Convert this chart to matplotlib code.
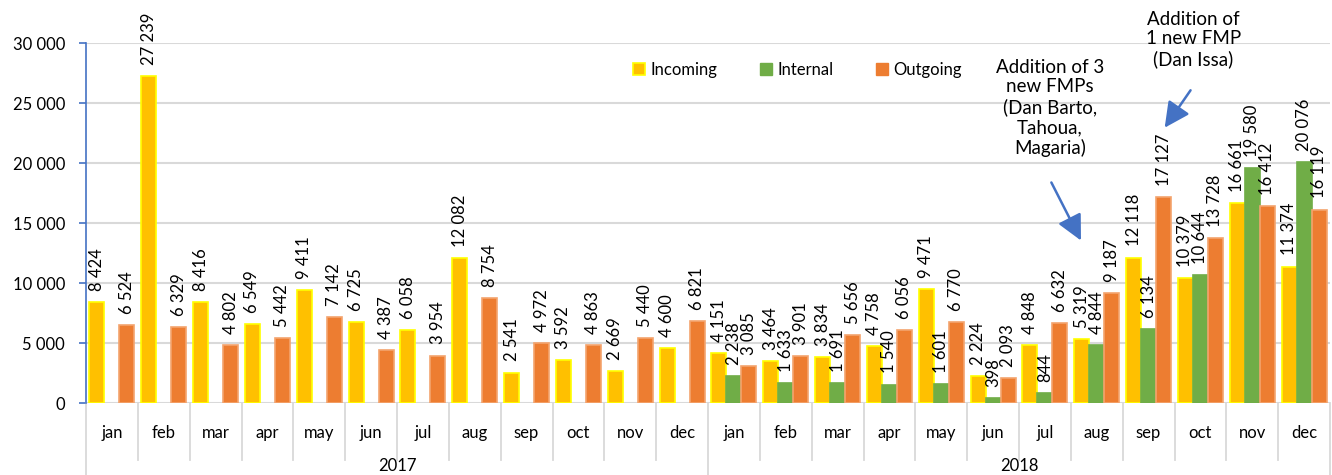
import numpy as np
import matplotlib.pyplot as plt
from matplotlib.patches import Patch

plt.rcParams['font.family'] = ['Lato', 'DejaVu Sans']

months = ['jan', 'feb', 'mar', 'apr', 'may', 'jun', 'jul', 'aug', 'sep', 'oct', 'nov', 'dec']
years = ['2017', '2018']

incoming = [8424, 27239, 8416, 6549, 9411, 6725, 6058, 12082, 2541, 3592, 2669, 4600,
            4151, 3464, 3834, 4758, 9471, 2224, 4848, 5319, 12118, 10379, 16661, 11374]
internal = [0, 0, 0, 0, 0, 0, 0, 0, 0, 0, 0, 0,
            2238, 1633, 1691, 1540, 1601, 398, 844, 4844, 6134, 10644, 19580, 20076]
outgoing = [6524, 6329, 4802, 5442, 7142, 4387, 3954, 8754, 4972, 4863, 5440, 6821,
            3085, 3901, 5656, 6056, 6770, 2093, 6632, 9187, 17127, 13728, 16412, 16119]

c_in = '#FFC000'
c_int = '#70AD47'
c_out = '#ED7D31'


def fmt(v):
    return f'{v:,}'.replace(',', ' ')


fig = plt.figure(figsize=(13.32, 4.75), dpi=100)
ax = fig.add_axes([86 / 1332, 72 / 475, 1244 / 1332, 360 / 475])

x = np.arange(len(incoming))
w = 0.29
series = [(incoming, c_in, '#FFFF00', -w), (internal, c_int, c_int, 0), (outgoing, c_out, '#F4A46E', w)]
for vals, col, edge, off in series:
    for xi, v in zip(x, vals):
        if v == 0:
            continue
        ax.bar(xi + off, v, w, color=col, edgecolor=edge, linewidth=1.2, zorder=3)
        ax.annotate(fmt(v), (xi + off, v), xytext=(0, 8), textcoords='offset points',
                    rotation=90, ha='center', va='bottom', fontsize=12, zorder=4)

ax.set_xlim(-0.5, len(x) - 0.5)
ax.set_ylim(0, 30000)
ax.set_yticks(range(0, 30001, 5000))
ax.set_yticklabels([fmt(v) for v in range(0, 30001, 5000)], fontsize=12)
ax.yaxis.grid(True, color='#D9D9D9', linewidth=1.5, zorder=0)
ax.set_axisbelow(True)
ax.set_xticks([])
for s in ['top', 'right', 'bottom']:
    ax.spines[s].set_visible(False)
ax.spines['left'].set_color('#4472C4')
ax.spines['left'].set_linewidth(1.2)
ax.tick_params(axis='y', color='#4472C4', length=5, width=1.2, pad=10)

# two-level category axis: months, then years
tr = ax.get_xaxis_transform()
for i in range(len(x) + 1):
    low = -0.2 if i % 12 == 0 else -0.158
    ax.plot([i - 0.5, i - 0.5], [0, low], transform=tr, color='#D9D9D9', lw=1.3, clip_on=False)
for i in range(len(x)):
    ax.text(i, -0.083, months[i % 12], transform=tr, ha='center', va='center', fontsize=12)
for j, yr in enumerate(years):
    ax.text(j * 12 + 5.5, -0.175, yr, transform=tr, ha='center', va='center', fontsize=12)

handles = [Patch(facecolor=c_in, edgecolor='#FFFF00', linewidth=1.2, label='Incoming'),
           Patch(facecolor=c_int, edgecolor=c_int, label='Internal'),
           Patch(facecolor=c_out, edgecolor=c_out, label='Outgoing')]
ax.legend(handles=handles, loc='center', bbox_to_anchor=(0.572, 0.925), ncol=3, frameon=False,
          fontsize=12, handlelength=0.7, handleheight=0.7, handletextpad=0.3, columnspacing=2.6)

arrow = dict(arrowstyle='-|>,head_length=0.7,head_width=0.35', color='#4472C4', lw=1.8,
             mutation_scale=22)
ax.annotate('', xy=(18.72, 13333), xytext=(18.1, 18583), arrowprops=arrow)
ax.text(18.1, 24600, 'Addition of 3\nnew FMPs\n(Dan Barto,\nTahoua,\nMagaria)', ha='center', va='center',
        fontsize=13.5, linespacing=1.2)
ax.annotate('', xy=(20.28, 22750), xytext=(20.84, 26250), arrowprops=arrow)
ax.text(20.86, 30300, 'Addition of\n1 new FMP\n(Dan Issa)', ha='center', va='center',
        fontsize=13.5, linespacing=1.2)

fig.savefig('out.png', dpi=100)
